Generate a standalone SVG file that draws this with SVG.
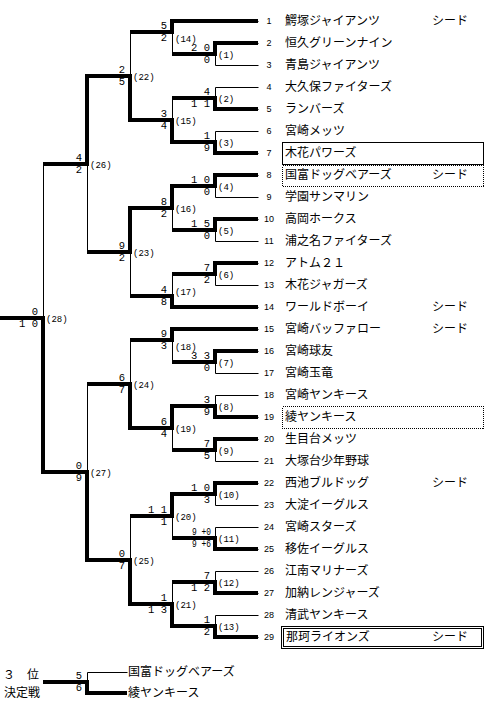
<svg xmlns="http://www.w3.org/2000/svg" width="500" height="716" viewBox="0 0 500 716">
<style>
.thin{stroke:#000;stroke-width:1;fill:none}
.thick{stroke:#000;stroke-width:4;fill:none;stroke-linejoin:miter}
.sc{font-family:"Liberation Mono",monospace;font-size:10.5px;text-anchor:end;fill:#000}
.lb{font-family:"Liberation Mono",monospace;font-size:9px;fill:#000}
.no{font-family:"Liberation Sans",sans-serif;font-size:9px;text-anchor:middle;fill:#000}
.nm{font-family:"Noto Sans CJK JP",sans-serif;font-size:12px;fill:#000}
.box{fill:none;stroke:#000;stroke-width:1;shape-rendering:crispEdges}
.dot{fill:none;stroke:#000;stroke-width:1;stroke-dasharray:1 1;shape-rendering:crispEdges}
</style>
<rect width="500" height="716" fill="#fff"/>
<g id="connectors">
<g class="thin" transform="translate(0.5,0.5)">
<path d="M172,21H258M215,43H258M215,65H258M215,87H258M215,109H258M215,131H258M215,153H258M215,175H258M215,197H258M215,219H258M215,241H258M215,263H258M215,285H258M172,307H258M172,329H258M215,351H258M215,373H258M215,395H258M215,417H258M215,439H258M215,461H258M215,483H258M215,505H258M215,527H258M215,549H258M215,571H258M215,593H258M215,615H258M215,637H258"/>
<path d="M215,43V65M215,87V109M215,131V153M215,175V197M215,219V241M215,263V285M215,351V373M215,395V417M215,439V461M215,483V505M215,527V549M215,571V593M215,615V637M172,21V54M172,98V142M172,186V230M172,274V307M172,329V362M172,406V450M172,494V538M172,582V626M130,32V120M130,208V296M130,340V428M130,516V604M87,76V252M87,384V560M43,164V472"/>
<path d="M87,672H127M87,672V693"/>
</g>
<g class="thick">
<polyline points="258,21 172,21 172,32 130,32"/>
<polyline points="258,43 215,43 215,54 172,54"/>
<polyline points="258,109 215,109 215,98 172,98"/>
<polyline points="258,153 215,153 215,142 172,142 172,120 130,120 130,76 87,76 87,164 43,164"/>
<polyline points="258,175 215,175 215,186 172,186 172,208 130,208 130,252 87,252"/>
<polyline points="258,219 215,219 215,230 172,230"/>
<polyline points="258,263 215,263 215,274 172,274"/>
<polyline points="258,307 172,307 172,296 130,296"/>
<polyline points="258,329 172,329 172,340 130,340"/>
<polyline points="258,351 215,351 215,362 172,362"/>
<polyline points="258,417 215,417 215,406 172,406 172,428 130,428 130,384 87,384"/>
<polyline points="258,439 215,439 215,450 172,450"/>
<polyline points="258,483 215,483 215,494 172,494 172,516 130,516"/>
<polyline points="258,549 215,549 215,538 172,538"/>
<polyline points="258,593 215,593 215,582 172,582"/>
<polyline points="258,637 215,637 215,626 172,626 172,604 130,604 130,560 87,560 87,472 43,472 43,318 0,318"/>
<polyline points="127,693 87,693 87,682 43,682"/>
</g>
</g>
<g id="team1"><text class="no" x="269" y="24">1</text><text class="nm" x="285" y="25">鰐塚ジャイアンツ</text><text class="nm" x="432" y="25">シード</text></g>
<g id="team2"><text class="no" x="269" y="46">2</text><text class="nm" x="285" y="47">恒久グリーンナイン</text></g>
<g id="team3"><text class="no" x="269" y="68">3</text><text class="nm" x="285" y="69">青島ジャイアンツ</text></g>
<g id="team4"><text class="no" x="269" y="90">4</text><text class="nm" x="285" y="91">大久保ファイターズ</text></g>
<g id="team5"><text class="no" x="269" y="112">5</text><text class="nm" x="285" y="113">ランバーズ</text></g>
<g id="team6"><text class="no" x="269" y="134">6</text><text class="nm" x="285" y="135">宮崎メッツ</text></g>
<g id="team7"><rect class="box" x="282.5" y="142.5" width="201" height="22"/><text class="no" x="269" y="156">7</text><text class="nm" x="285" y="157">木花パワーズ</text></g>
<g id="team8"><rect class="dot" x="282.5" y="165.5" width="201" height="21"/><text class="no" x="269" y="178">8</text><text class="nm" x="285" y="179">国富ドッグベアーズ</text><text class="nm" x="432" y="179">シード</text></g>
<g id="team9"><text class="no" x="269" y="200">9</text><text class="nm" x="285" y="201">学園サンマリン</text></g>
<g id="team10"><text class="no" x="269" y="222">10</text><text class="nm" x="285" y="223">高岡ホークス</text></g>
<g id="team11"><text class="no" x="269" y="244">11</text><text class="nm" x="285" y="245">浦之名ファイターズ</text></g>
<g id="team12"><text class="no" x="269" y="266">12</text><text class="nm" x="285" y="267">アトム２１</text></g>
<g id="team13"><text class="no" x="269" y="288">13</text><text class="nm" x="285" y="289">木花ジャガーズ</text></g>
<g id="team14"><text class="no" x="269" y="310">14</text><text class="nm" x="285" y="311">ワールドボーイ</text><text class="nm" x="432" y="311">シード</text></g>
<g id="team15"><text class="no" x="269" y="332">15</text><text class="nm" x="285" y="333">宮崎バッファロー</text><text class="nm" x="432" y="333">シード</text></g>
<g id="team16"><text class="no" x="269" y="354">16</text><text class="nm" x="285" y="355">宮崎球友</text></g>
<g id="team17"><text class="no" x="269" y="376">17</text><text class="nm" x="285" y="377">宮崎玉竜</text></g>
<g id="team18"><text class="no" x="269" y="398">18</text><text class="nm" x="285" y="399">宮崎ヤンキース</text></g>
<g id="team19"><rect class="dot" x="282.5" y="406.5" width="201" height="22"/><text class="no" x="269" y="420">19</text><text class="nm" x="285" y="421">綾ヤンキース</text></g>
<g id="team20"><text class="no" x="269" y="442">20</text><text class="nm" x="285" y="443">生目台メッツ</text></g>
<g id="team21"><text class="no" x="269" y="464">21</text><text class="nm" x="285" y="465">大塚台少年野球</text></g>
<g id="team22"><text class="no" x="269" y="486">22</text><text class="nm" x="285" y="487">西池ブルドッグ</text><text class="nm" x="432" y="487">シード</text></g>
<g id="team23"><text class="no" x="269" y="508">23</text><text class="nm" x="285" y="509">大淀イーグルス</text></g>
<g id="team24"><text class="no" x="269" y="530">24</text><text class="nm" x="285" y="531">宮崎スターズ</text></g>
<g id="team25"><text class="no" x="269" y="552">25</text><text class="nm" x="285" y="553">移佐イーグルス</text></g>
<g id="team26"><text class="no" x="269" y="574">26</text><text class="nm" x="285" y="575">江南マリナーズ</text></g>
<g id="team27"><text class="no" x="269" y="596">27</text><text class="nm" x="285" y="597">加納レンジャーズ</text></g>
<g id="team28"><text class="no" x="269" y="618">28</text><text class="nm" x="285" y="619">清武ヤンキース</text></g>
<g id="team29"><rect class="box" x="281.5" y="626.5" width="202" height="22"/><rect class="box" x="283.5" y="628.5" width="198" height="18"/><text class="no" x="269" y="640">29</text><text class="nm" x="286" y="641">那珂ライオンズ</text><text class="nm" x="432" y="641">シード</text></g>
<g id="m1"><text class="sc" x="210" y="51">2 0</text><text class="sc" x="210" y="63">0</text><text class="lb" x="218" y="58">(1)</text></g>
<g id="m2"><text class="sc" x="210" y="95">4</text><text class="sc" x="210" y="107">1 1</text><text class="lb" x="218" y="102">(2)</text></g>
<g id="m3"><text class="sc" x="210" y="139">1</text><text class="sc" x="210" y="151">9</text><text class="lb" x="218" y="146">(3)</text></g>
<g id="m4"><text class="sc" x="210" y="183">1 0</text><text class="sc" x="210" y="195">0</text><text class="lb" x="218" y="190">(4)</text></g>
<g id="m5"><text class="sc" x="210" y="227">1 5</text><text class="sc" x="210" y="239">0</text><text class="lb" x="218" y="234">(5)</text></g>
<g id="m6"><text class="sc" x="210" y="271">7</text><text class="sc" x="210" y="283">2</text><text class="lb" x="218" y="278">(6)</text></g>
<g id="m7"><text class="sc" x="210" y="359">3 3</text><text class="sc" x="210" y="371">0</text><text class="lb" x="218" y="366">(7)</text></g>
<g id="m8"><text class="sc" x="210" y="403">3</text><text class="sc" x="210" y="415">9</text><text class="lb" x="218" y="410">(8)</text></g>
<g id="m9"><text class="sc" x="210" y="447">7</text><text class="sc" x="210" y="459">5</text><text class="lb" x="218" y="454">(9)</text></g>
<g id="m10"><text class="sc" x="210" y="491">1 0</text><text class="sc" x="210" y="503">3</text><text class="lb" x="218" y="498">(10)</text></g>
<g id="m11"><text class="sc" x="211" y="535" textLength="19" lengthAdjust="spacingAndGlyphs">9 +0</text><text class="sc" x="211" y="547" textLength="19" lengthAdjust="spacingAndGlyphs">9 +6</text><text class="lb" x="218" y="542">(11)</text></g>
<g id="m12"><text class="sc" x="210" y="579">7</text><text class="sc" x="210" y="591">1 2</text><text class="lb" x="218" y="586">(12)</text></g>
<g id="m13"><text class="sc" x="210" y="623">1</text><text class="sc" x="210" y="635">2</text><text class="lb" x="218" y="630">(13)</text></g>
<g id="m14"><text class="sc" x="167" y="29">5</text><text class="sc" x="167" y="41">2</text><text class="lb" x="175" y="41.5">(14)</text></g>
<g id="m15"><text class="sc" x="167" y="117">3</text><text class="sc" x="167" y="129">4</text><text class="lb" x="175" y="124">(15)</text></g>
<g id="m16"><text class="sc" x="167" y="205">8</text><text class="sc" x="167" y="217">2</text><text class="lb" x="175" y="212">(16)</text></g>
<g id="m17"><text class="sc" x="167" y="293">4</text><text class="sc" x="167" y="305">8</text><text class="lb" x="175" y="294.5">(17)</text></g>
<g id="m18"><text class="sc" x="167" y="337">9</text><text class="sc" x="167" y="349">3</text><text class="lb" x="175" y="349.5">(18)</text></g>
<g id="m19"><text class="sc" x="167" y="425">6</text><text class="sc" x="167" y="437">4</text><text class="lb" x="175" y="432">(19)</text></g>
<g id="m20"><text class="sc" x="167" y="513">1 1</text><text class="sc" x="167" y="525">1</text><text class="lb" x="175" y="520">(20)</text></g>
<g id="m21"><text class="sc" x="167" y="601">1</text><text class="sc" x="167" y="613">1 3</text><text class="lb" x="175" y="608">(21)</text></g>
<g id="m22"><text class="sc" x="125" y="73">2</text><text class="sc" x="125" y="85">5</text><text class="lb" x="133" y="80">(22)</text></g>
<g id="m23"><text class="sc" x="125" y="249">9</text><text class="sc" x="125" y="261">2</text><text class="lb" x="133" y="256">(23)</text></g>
<g id="m24"><text class="sc" x="125" y="381">6</text><text class="sc" x="125" y="393">7</text><text class="lb" x="133" y="388">(24)</text></g>
<g id="m25"><text class="sc" x="125" y="557">0</text><text class="sc" x="125" y="569">7</text><text class="lb" x="133" y="564">(25)</text></g>
<g id="m26"><text class="sc" x="82" y="161">4</text><text class="sc" x="82" y="173">2</text><text class="lb" x="90" y="168">(26)</text></g>
<g id="m27"><text class="sc" x="82" y="469">0</text><text class="sc" x="82" y="481">9</text><text class="lb" x="90" y="476">(27)</text></g>
<g id="m28"><text class="sc" x="38" y="315">0</text><text class="sc" x="38" y="327">1 0</text><text class="lb" x="46" y="322">(28)</text></g>
<g id="third">
<text class="nm" x="3" y="679">３　位</text>
<text class="nm" x="4" y="697">決定戦</text>
<text class="sc" x="82" y="679">5</text>
<text class="sc" x="82" y="691">6</text>
<text class="nm" x="128" y="676">国富ドッグベアーズ</text>
<text class="nm" x="128" y="697">綾ヤンキース</text>
</g>
</svg>
